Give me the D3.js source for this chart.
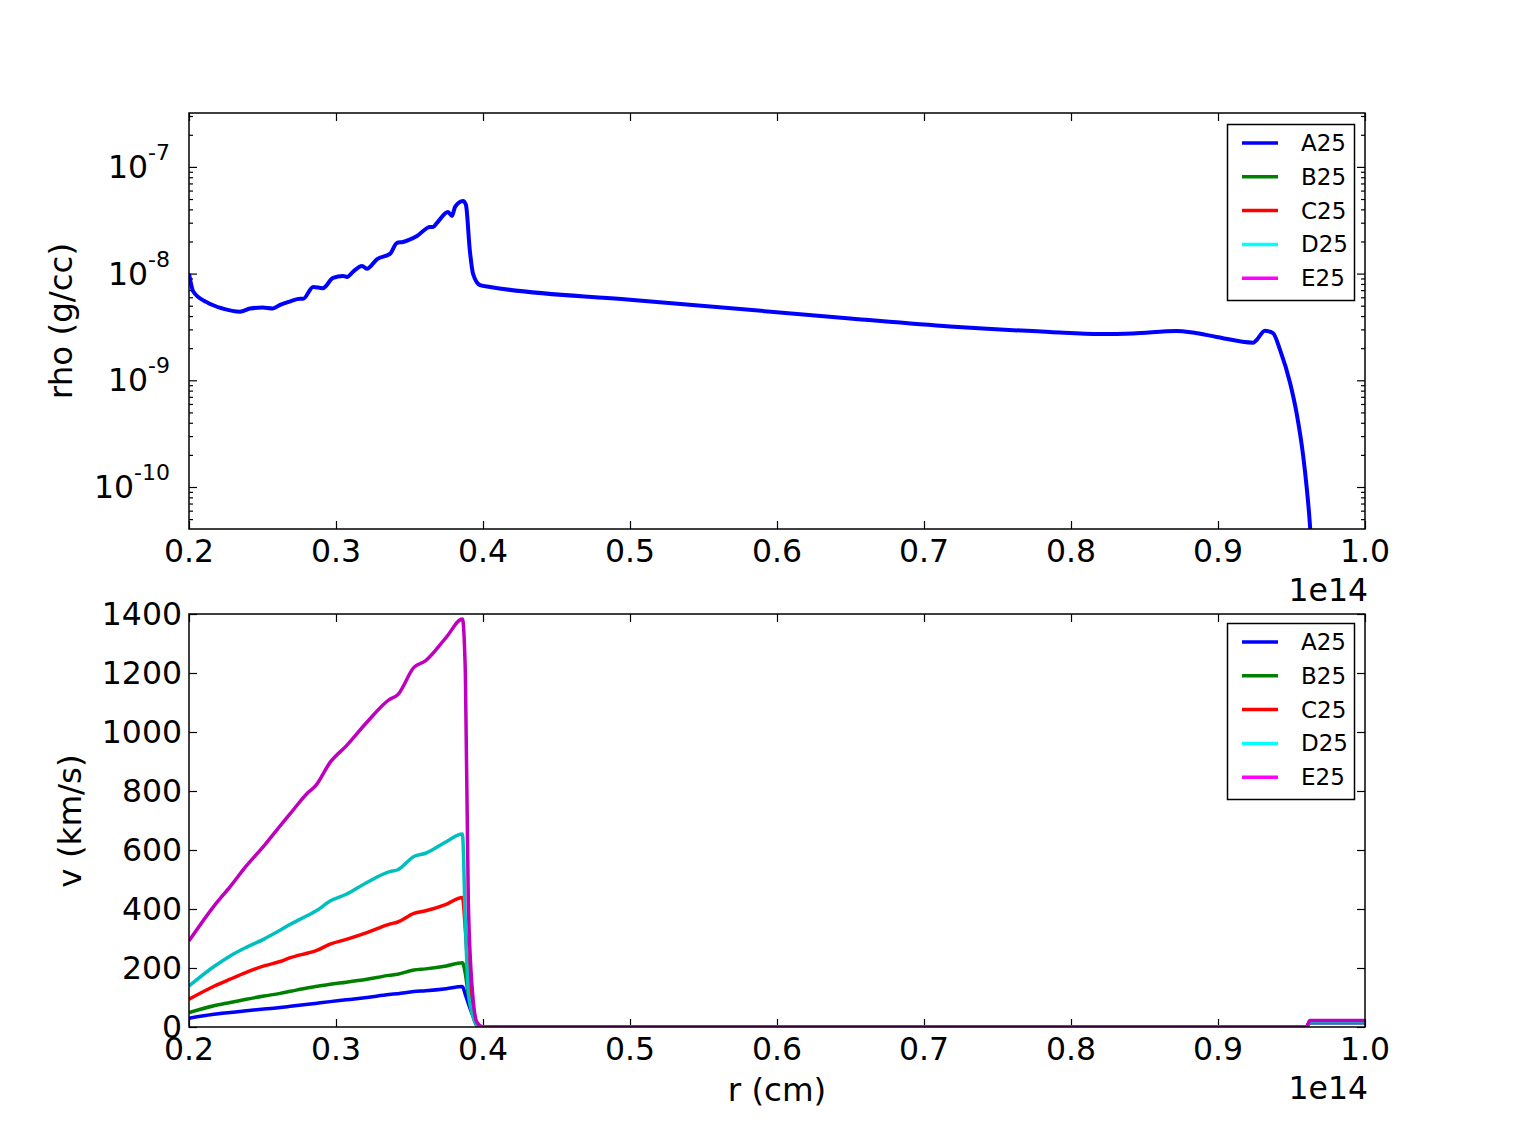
<!DOCTYPE html>
<html>
<head>
<meta charset="utf-8">
<script src="https://cdn.jsdelivr.net/npm/d3@7"></script>
<style>
  body { margin: 0; background: #fff; }
  text { font-family: "DejaVu Sans", sans-serif; fill: #000; }
</style>
</head>
<body>
<svg id="fig" width="1517" height="1144"></svg>
<script>
// r in units of 1e14 cm
var series = ['A25', 'B25', 'C25', 'D25', 'E25'];
var lineColors = ['#0000ff', '#008000', '#ff0000', '#00bfbf', '#bf00bf'];
var legendColors = ['#0000ff', '#008000', '#ff0000', '#00ffff', '#ff00ff'];

// density profile (g/cc), only A25 shows
var rRho = [0.200, 0.2029, 0.212, 0.223, 0.2347, 0.2415, 0.250, 0.257, 0.262, 0.269, 0.2755, 0.2776,
  0.2845, 0.291, 0.298, 0.3048, 0.3075, 0.3116, 0.3177, 0.321, 0.328, 0.3367, 0.3415, 0.3456, 0.3551,
  0.364, 0.366, 0.3687, 0.3762, 0.3789, 0.381, 0.3864, 0.3884, 0.391, 0.3932, 0.398, 0.4048, 0.500,
  0.6497, 0.7177, 0.7857, 0.8197, 0.842, 0.8719, 0.883, 0.899, 0.924, 0.9263, 0.9319, 0.9374, 0.9422,
  0.949, 0.9535, 0.958, 0.9603, 0.9626, 0.964];
var rho = [1.0e-8, 6.8e-9, 5.4e-9, 4.7e-9, 4.4e-9, 4.7e-9, 4.8e-9, 4.7e-9, 5.1e-9, 5.5e-9, 5.8e-9, 5.8e-9,
  7.5e-9, 7.3e-9, 9.1e-9, 9.5e-9, 9.3e-9, 1.04e-8, 1.18e-8, 1.11e-8, 1.37e-8, 1.53e-8, 1.94e-8, 1.98e-8, 2.25e-8,
  2.74e-8, 2.74e-8, 2.99e-8, 3.78e-8, 3.47e-8, 4.22e-8, 4.8e-8, 4.4e-8, 1.67e-8, 1.0e-8, 7.8e-9, 7.5e-9, 5.7e-9,
  3.8e-9, 3.2e-9, 2.84e-9, 2.72e-9, 2.75e-9, 2.9e-9, 2.8e-9, 2.55e-9, 2.25e-9, 2.39e-9, 2.92e-9, 2.77e-9, 1.93e-9,
  9.5e-10, 4.9e-10, 1.93e-10, 1.0e-10, 4.3e-11, 2.0e-11];

// velocity profiles (km/s)
var rV = [0.200, 0.217, 0.228, 0.239, 0.251, 0.262, 0.269, 0.281, 0.286, 0.296, 0.307, 0.321, 0.336,
  0.342, 0.353, 0.361, 0.375, 0.386, 0.388, 0.390, 0.393, 0.396, 0.400, 0.960, 0.9625, 1.0];
var vA = [30, 43, 49, 55, 61, 66, 70, 77, 80, 86, 92, 100, 110, 113, 120, 123, 130, 137, 110, 80, 40, 10, 0, 0, 14, 14];
var vB = [49, 72, 83, 94, 105, 114, 121, 133, 137, 145, 152, 162, 175, 179, 193, 197, 207, 218, 180, 110, 40, 5, 0, 0, 15, 15];
var vC = [94, 138, 162, 185, 207, 222, 235, 251, 258, 281, 297, 320, 348, 356, 385, 394, 416, 439, 330, 180, 50, 5, 0, 0, 16, 16];
var vD = [139, 205, 241, 270, 298, 328, 348, 379, 392, 427, 450, 490, 526, 533, 578, 589, 628, 654, 350, 120, 40, 5, 0, 0, 18, 18];
var vE = [292, 410, 476, 546, 614, 682, 724, 795, 817, 897, 953, 1033, 1109, 1126, 1219, 1242, 1321, 1383, 1200, 430, 110, 15, 0, 0, 22, 22];
var vAll = [vA, vB, vC, vD, vE];

var xTicks = [0.2, 0.3, 0.4, 0.5, 0.6, 0.7, 0.8, 0.9, 1.0];
var vTicks = [0, 200, 400, 600, 800, 1000, 1200, 1400];
var rhoDecades = [-10, -9, -8, -7];

var svg = d3.select('#fig');
var left = 189, right = 1365;
var top1 = 113, bot1 = 529, top2 = 614, bot2 = 1027;
var tickFont = 31.5, labelFont = 32.5, legendFont = 23;

var x = d3.scaleLinear().domain([0.2, 1.0]).range([left, right]);
var yRho = d3.scaleLog().domain([4.04e-11, 3.2e-7]).range([bot1, top1]);
var yV = d3.scaleLinear().domain([0, 1400]).range([bot2, top2]);

svg.append('defs').append('clipPath').attr('id', 'clip1')
  .append('rect').attr('x', left).attr('y', top1).attr('width', right - left).attr('height', bot1 - top1);
svg.select('defs').append('clipPath').attr('id', 'clip2')
  .append('rect').attr('x', left).attr('y', top2).attr('width', right - left).attr('height', bot2 - top2);

function styleAxis(g) {
  g.select('.domain').remove();
  g.selectAll('line').attr('stroke', '#000').attr('stroke-width', 1.2);
}

function frame(top, bot, y, yMajor, yMinor) {
  var g = svg.append('g');
  // x ticks, bottom and top, pointing in
  g.append('g').attr('transform', 'translate(0,' + bot + ')')
    .call(d3.axisBottom(x).tickValues(xTicks).tickSize(-8).tickFormat('')).call(styleAxis);
  g.append('g').attr('transform', 'translate(0,' + top + ')')
    .call(d3.axisTop(x).tickValues(xTicks).tickSize(-8).tickFormat('')).call(styleAxis);
  g.append('g').attr('transform', 'translate(' + left + ',0)')
    .call(d3.axisLeft(y).tickValues(yMajor).tickSize(-8).tickFormat('')).call(styleAxis);
  g.append('g').attr('transform', 'translate(' + right + ',0)')
    .call(d3.axisRight(y).tickValues(yMajor).tickSize(-8).tickFormat('')).call(styleAxis);
  if (yMinor) {
    g.append('g').attr('transform', 'translate(' + left + ',0)')
      .call(d3.axisLeft(y).tickValues(yMinor).tickSize(-4).tickFormat('')).call(styleAxis);
    g.append('g').attr('transform', 'translate(' + right + ',0)')
      .call(d3.axisRight(y).tickValues(yMinor).tickSize(-4).tickFormat('')).call(styleAxis);
  }
  // x tick labels
  g.selectAll('.xl').data(xTicks).enter().append('text')
    .attr('x', function(d) { return x(d); })
    .attr('y', bot + 33)
    .attr('text-anchor', 'middle')
    .attr('font-size', tickFont)
    .text(function(d) { return d.toFixed(1); });
  g.append('text').attr('x', 1368).attr('y', bot + 72)
    .attr('text-anchor', 'end').attr('font-size', tickFont).text('1e14');
  return g;
}

// ---- top panel: rho
var rhoMajor = rhoDecades.map(function(k) { return Math.pow(10, k); });
var rhoMinor = [];
[-11, -10, -9, -8, -7].forEach(function(k) {
  for (var m = 2; m <= 9; m++) {
    var v = m * Math.pow(10, k);
    if (v >= yRho.domain()[0] && v <= yRho.domain()[1]) rhoMinor.push(v);
  }
});
var g1 = frame(top1, bot1, yRho, rhoMajor, rhoMinor);

rhoDecades.forEach(function(k) {
  var t = g1.append('text')
    .attr('x', 170)
    .attr('y', yRho(Math.pow(10, k)) + 11)
    .attr('text-anchor', 'end')
    .attr('font-size', tickFont);
  t.append('tspan').text('10');
  t.append('tspan').attr('font-size', 22).attr('dy', -18).text('-' + (-k));
});

g1.append('text')
  .attr('transform', 'translate(72,321) rotate(-90)')
  .attr('text-anchor', 'middle').attr('font-size', labelFont).text('rho (g/cc)');

var rhoLine = d3.line()
  .curve(d3.curveMonotoneX)
  .x(function(d, i) { return x(rRho[i]); })
  .y(function(d) { return yRho(d); });

svg.append('g').attr('clip-path', 'url(#clip1)')
  .append('path').datum(rho)
  .attr('d', rhoLine)
  .attr('fill', 'none').attr('stroke', lineColors[0]).attr('stroke-width', 4)
  .attr('stroke-linejoin', 'round');

// ---- bottom panel: v
var g2 = frame(top2, bot2, yV, vTicks, null);
g2.selectAll('.yl').data(vTicks).enter().append('text')
  .attr('x', 182)
  .attr('y', function(d) { return yV(d) + 11; })
  .attr('text-anchor', 'end')
  .attr('font-size', tickFont)
  .text(function(d) { return d; });

g2.append('text')
  .attr('transform', 'translate(81,821) rotate(-90)')
  .attr('text-anchor', 'middle').attr('font-size', labelFont).text('v (km/s)');
g2.append('text').attr('x', (left + right) / 2).attr('y', 1101)
  .attr('text-anchor', 'middle').attr('font-size', labelFont).text('r (cm)');

var vLine = d3.line()
  .curve(d3.curveMonotoneX)
  .x(function(d, i) { return x(rV[i]); })
  .y(function(d) { return yV(d); });

svg.append('g').attr('clip-path', 'url(#clip2)')
  .selectAll('path').data(vAll).enter().append('path')
  .attr('d', vLine)
  .attr('fill', 'none')
  .attr('stroke', function(d, i) { return lineColors[i]; })
  .attr('stroke-width', 3.5)
  .attr('stroke-linejoin', 'round');

// spines
[[top1, bot1], [top2, bot2]].forEach(function(p) {
  svg.append('rect').attr('x', left).attr('y', p[0])
    .attr('width', right - left).attr('height', p[1] - p[0])
    .attr('fill', 'none').attr('stroke', '#000').attr('stroke-width', 1.5);
});

// legends
function legend(top) {
  var g = svg.append('g');
  g.append('rect').attr('x', 1227.5).attr('y', top)
    .attr('width', 127).attr('height', 176)
    .attr('fill', '#fff').attr('stroke', '#000').attr('stroke-width', 1.5);
  series.forEach(function(s, i) {
    var cy = top + 18.5 + i * 33.8;
    g.append('line').attr('x1', 1242).attr('x2', 1278).attr('y1', cy).attr('y2', cy)
      .attr('stroke', legendColors[i]).attr('stroke-width', 3.5);
    g.append('text').attr('x', 1301).attr('y', cy + 8).attr('font-size', legendFont).text(s);
  });
}
legend(124.5);
legend(623.5);
</script>
</body>
</html>
